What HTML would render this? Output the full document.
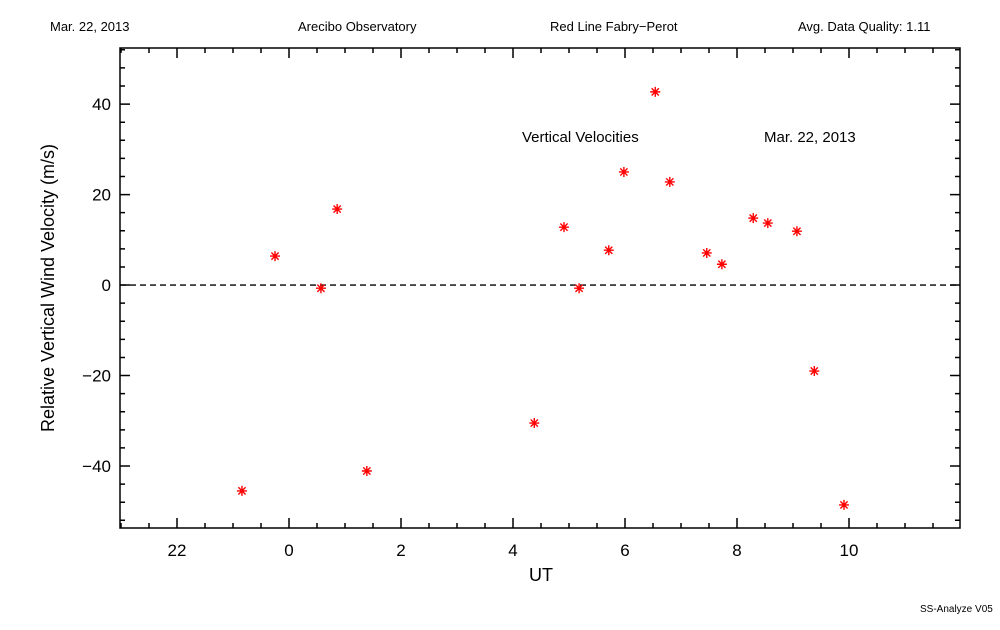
<!DOCTYPE html>
<html><head><meta charset="utf-8"><style>
body{margin:0;background:#fff}
text{font-family:"Liberation Sans","DejaVu Sans",sans-serif;fill:#000}
</style></head><body>
<svg id="chart" width="1000" height="625" xmlns="http://www.w3.org/2000/svg">
<rect width="1000" height="625" fill="#fff"/>
<g font-size="13">
<text x="50" y="31">Mar. 22, 2013</text>
<text x="298" y="31">Arecibo Observatory</text>
<text x="550" y="31">Red Line Fabry−Perot</text>
<text x="798" y="31">Avg. Data Quality: 1.11</text>
</g>
<text x="522" y="142" font-size="15">Vertical Velocities</text>
<text x="764" y="142" font-size="15">Mar. 22, 2013</text>
<text x="920" y="612" font-size="10">SS-Analyze V05</text>
<text x="541" y="581" font-size="18" text-anchor="middle">UT</text>
<text transform="translate(54,288) rotate(-90)" font-size="18" text-anchor="middle">Relative Vertical Wind Velocity (m/s)</text>
<g id="axes"></g>
<g id="marks"></g>
</svg>
<script>
const xTickValues=[-2,0,2,4,6,8,10];
const xTickLabels=["22","0","2","4","6","8","10"];
const yTickValues=[-40,-20,0,20,40];
const yTickLabels=["−40","−20","0","20","40"];
const hours=[-0.84,-0.25,0.57,0.86,1.39,4.38,4.91,5.18,5.71,5.98,6.54,6.80,7.46,7.73,8.29,8.55,9.07,9.38,9.91];
const velocities=[-45.5,6.4,-0.7,16.8,-41.1,-30.5,12.8,-0.7,7.7,25.0,42.7,22.8,7.1,4.6,14.8,13.7,11.9,-19.0,-48.6];
const L=120,R=960,T=48,B=528,xMin=-3.018,xMax=11.982,yMin=-53.7,yMax=52.4;
const X=v=>L+(v-xMin)/(xMax-xMin)*(R-L);
const Y=v=>B-(v-yMin)/(yMax-yMin)*(B-T);
const NS="http://www.w3.org/2000/svg";
function mk(tag,attrs,parent){const e=document.createElementNS(NS,tag);for(const k in attrs)e.setAttribute(k,attrs[k]);parent.appendChild(e);return e;}
const ax=document.getElementById('axes');
const frame=mk('rect',{x:L,y:T,width:R-L,height:B-T,fill:'none',stroke:'#000','stroke-width':1.5},ax);


let d='';
for(let h=-3;h<=12.001;h+=0.5){const x=X(h);if(x<L||x>R)continue;const len=(Math.abs(h%2)<1e-6)?10:5;d+=`M${x},${B}v${-len}M${x},${T}v${len}`;}
for(let v=-52;v<=52;v+=4){const y=Y(v);const len=(Math.abs(v%20)<1e-6)?10:5;d+=`M${L},${y}h${len}M${R},${y}h${-len}`;}
const ticks=mk('path',{d:d,stroke:'#000','stroke-width':1.5,fill:'none'},ax);


xTickValues.forEach((v,i)=>{const t=mk('text',{x:X(v),y:556,'font-size':17,'text-anchor':'middle'},ax);t.textContent=xTickLabels[i];

});
yTickValues.forEach((v,i)=>{const t=mk('text',{x:111,y:Y(v)+6,'font-size':17,'text-anchor':'end'},ax);t.textContent=yTickLabels[i];

});
const zl=mk('line',{x1:L,x2:R,y1:Y(0),y2:Y(0),stroke:'#000','stroke-width':1.3,'stroke-dasharray':'6,4'},ax);


const mg=document.getElementById('marks');
hours.forEach((h,i)=>{const x=X(h),y=Y(velocities[i]),r=5,q=3.6;
const p=mk('path',{d:`M${x-r},${y}h${2*r}M${x},${y-r}v${2*r}M${x-q},${y-q}l${2*q},${2*q}M${x-q},${y+q}l${2*q},${-2*q}`,stroke:'#f00','stroke-width':1.4},mg);

});
</script>
</body></html>
